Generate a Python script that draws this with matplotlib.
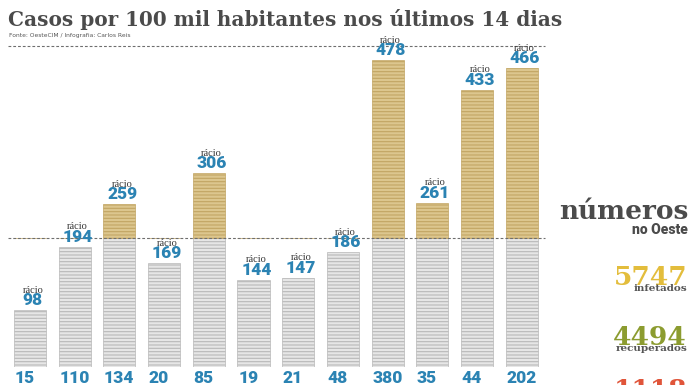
import matplotlib.pyplot as plt

# rácio = casos por 100 mil habitantes nos últimos 14 dias, casos = novos casos
racio = [98, 194, 259, 169, 306, 144, 147, 186, 478, 261, 433, 466]
casos = [15, 110, 134, 20, 85, 19, 21, 48, 380, 35, 44, 202]
limiar = 207      # linha tracejada de baixo (barras acima ficam douradas)
topo = 500        # linha tracejada de cima

titulo = "Casos por 100 mil habitantes nos últimos 14 dias"
fonte = "Fonte: OesteCIM / Infografia: Carlos Reis"
resumo_num = ["5747", "4494", "1118"]
resumo_lab = ["infetados", "recuperados", ""]
resumo_cor = ["#e3bd3c", "#8c9c30", "#e0553a"]

W, H = 696, 385
plt.rcParams["hatch.linewidth"] = 0.8

fig = plt.figure(figsize=(W / 100, H / 100), dpi=100)
fig.patch.set_facecolor("white")


def fx(px):
    return px / W


def fy(py):
    return 1 - py / H


# axes: bottom edge is the bar baseline (y = 367 px)
ax = fig.add_axes([0, fy(367), 1, 1 - fy(367)])
ax.set_xlim(-30 / 44.7, (W - 30) / 44.7)
ax.set_ylim(11.4, 11.4 + 367 / 0.658)
ax.axis("off")

x = list(range(len(racio)))
largura = 0.72
cinza = [min(v, limiar) for v in racio]
ouro = [max(v - limiar, 0) for v in racio]

ax.bar(x, cinza, width=largura, color="#e6e6e6", edgecolor="#b8b8b8",
       hatch="-----", linewidth=0.5)
ax.bar(x, ouro, bottom=limiar, width=largura, color="#dcc68e",
       edgecolor="#c2a563", hatch="-----", linewidth=0.5)

for lvl in (limiar, topo):
    ax.hlines(lvl, -0.49, 11.52, colors="#6e6e6e", linestyles=(0, (2.5, 1.8)),
              linewidth=0.8, zorder=3)

azul = "#2b83b3"
for i, (v, c) in enumerate(zip(racio, casos)):
    ax.annotate(str(v), (i, v), xytext=(2, 3.6), textcoords="offset points",
                ha="center", va="baseline", fontsize=12.5, fontweight="heavy",
                color=azul, family="Roboto", zorder=4)
    ax.annotate("rácio", (i, v), xytext=(2, 12.5), textcoords="offset points",
                ha="center", va="baseline", fontsize=7.5, color="#333333",
                family="Liberation Serif", zorder=5)
    ax.annotate(str(c), (i - largura / 2, 11.4), xytext=(0.5, -2),
                textcoords="offset points", ha="left", va="top", fontsize=12.5,
                fontweight="heavy", color=azul, family="Roboto",
                annotation_clip=False)
    ax.annotate("casos", (i - largura / 2, 11.4), xytext=(1.5, -12),
                textcoords="offset points", ha="left", va="top", fontsize=3,
                color="#555555", annotation_clip=False)

# title and source
fig.text(fx(8), fy(26), titulo, ha="left", va="baseline", fontsize=14.4,
         fontweight="bold", family="DejaVu Serif", color="#4b4b4b")
fig.text(fx(9), fy(37), fonte, ha="left", va="baseline", fontsize=4.3,
         color="#555555")

# right panel
fig.text(fx(688), fy(219), "números", ha="right", va="baseline", fontsize=19,
         fontweight="bold", family="DejaVu Serif", color="#4b4b4b")
fig.text(fx(688), fy(234), "no Oeste", ha="right", va="baseline", fontsize=10,
         fontweight="heavy", family="Roboto", color="#4b4b4b")

for num, lab, cor, base in zip(resumo_num, resumo_lab, resumo_cor,
                               [285, 345, 398]):
    fig.text(fx(687), fy(base), num, ha="right", va="baseline", fontsize=19,
             fontweight="bold", family="DejaVu Serif", color=cor)
    if lab:
        fig.text(fx(687), fy(base + 6), lab, ha="right", va="baseline",
                 fontsize=7.5, fontweight="bold", family="DejaVu Serif",
                 color="#555555")

fig.savefig("out.png", dpi=100, facecolor="white")
